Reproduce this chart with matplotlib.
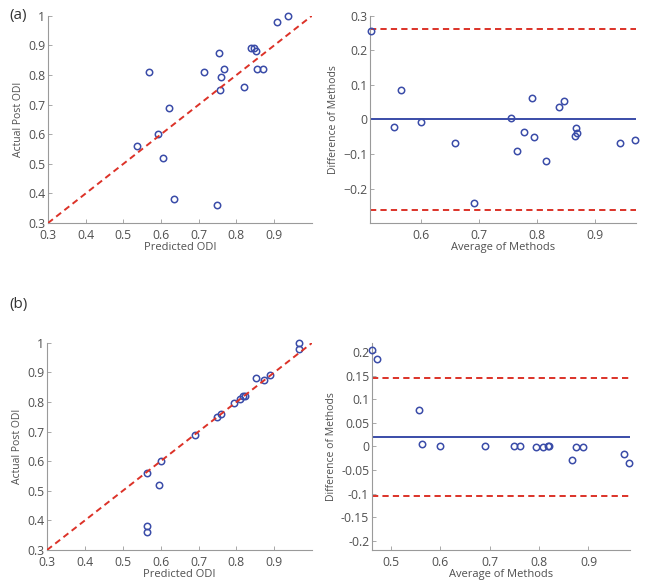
import numpy as np
import matplotlib
matplotlib.use("Agg")
import matplotlib.pyplot as plt
from matplotlib.ticker import FuncFormatter

plt.rcParams['font.family'] = ['Open Sans', 'DejaVu Sans']
plt.rcParams['lines.scale_dashes'] = False

# (a) predicted vs actual
pred_a = [0.537, 0.567, 0.591, 0.604, 0.621, 0.635, 0.714, 0.753, 0.758, 0.756, 0.767,
          0.749, 0.819, 0.839, 0.847, 0.853, 0.855, 0.871, 0.907, 0.937]
actual_a = [0.56, 0.81, 0.60, 0.52, 0.69, 0.38, 0.81, 0.875, 0.795, 0.75, 0.82,
            0.36, 0.76, 0.89, 0.89, 0.88, 0.82, 0.82, 0.98, 1.0]
# (a) Bland-Altman
avg_a = [0.514, 0.554, 0.567, 0.600, 0.660, 0.692, 0.755, 0.765, 0.778, 0.792,
         0.795, 0.815, 0.838, 0.846, 0.865, 0.867, 0.869, 0.943, 0.968]
diff_a = [0.257, -0.021, 0.085, -0.006, -0.067, -0.241, 0.005, -0.092, -0.035, 0.062,
          -0.052, -0.120, 0.037, 0.053, -0.047, -0.025, -0.040, -0.068, -0.059]
mean_a, loa_a = 0.0, 0.262

# (b) predicted vs actual
pred_b = [0.565, 0.565, 0.565, 0.597, 0.600, 0.690, 0.750, 0.760, 0.795, 0.810, 0.818,
          0.822, 0.853, 0.873, 0.888, 0.966, 0.966]
actual_b = [0.56, 0.38, 0.36, 0.52, 0.60, 0.69, 0.75, 0.76, 0.795, 0.81, 0.82,
            0.82, 0.88, 0.875, 0.89, 1.0, 0.98]
# (b) Bland-Altman
avg_b = [0.462, 0.472, 0.558, 0.563, 0.600, 0.690, 0.750, 0.761, 0.793, 0.809, 0.819,
         0.821, 0.867, 0.874, 0.889, 0.971, 0.983]
diff_b = [0.2055, 0.186, 0.077, 0.005, 0.001, 0.001, 0.001, 0.001, -0.001, -0.001,
          0.0, 0.001, -0.028, -0.001, -0.001, -0.016, -0.035]
mean_b, loa_hi_b, loa_lo_b = 0.02, 0.145, -0.106

BLUE = '#3a4ca8'
RED = '#dc3228'
GREY = '#505050'
SPINE = '#9a9a9a'
DASH = (4.5, 3.0)

fig = plt.figure(figsize=(6.45, 5.87), dpi=100)


def style(ax):
    for s in ['top', 'right']:
        ax.spines[s].set_visible(False)
    for s in ['left', 'bottom']:
        ax.spines[s].set_color(SPINE)
        ax.spines[s].set_linewidth(0.8)
    ax.tick_params(direction='in', length=3, width=0.6, color=SPINE,
                   labelsize=8.8, labelcolor=GREY)
    ax.tick_params(axis='x', pad=4.5)
    ax.tick_params(axis='y', pad=2)


def fmt_g(minus):
    def f(v, pos):
        s = '%g' % (round(v, 3) + 0.0)
        if s == '-0':
            s = '0'
        return s.replace('-', minus)
    return FuncFormatter(f)


def scatter_panel(ax, pred, actual):
    ax.plot(pred, actual, 'o', mfc='none', mec=BLUE, ms=4.6, mew=1.1, zorder=2, clip_on=False)
    ax.plot([0.3, 1.0], [0.3, 1.0], color=RED, lw=1.4, dashes=DASH, zorder=3)
    ax.set_xlim(0.3, 1.0)
    ax.set_ylim(0.3, 1.0)
    ax.set_xticks(np.arange(0.3, 0.95, 0.1))
    ax.set_yticks(np.arange(0.3, 1.05, 0.1))
    ax.xaxis.set_major_formatter(fmt_g('-'))
    ax.yaxis.set_major_formatter(fmt_g('-'))
    ax.set_xlabel('Predicted ODI', fontsize=8, color=GREY, labelpad=0)
    ax.set_ylabel('Actual Post ODI', fontsize=7.5, color=GREY, labelpad=3)
    style(ax)


# (a) left
ax1 = fig.add_axes([0.0744, 0.620, 0.409, 0.353])
scatter_panel(ax1, pred_a, actual_a)

# (a) right
ax2 = fig.add_axes([0.5736, 0.620, 0.412, 0.353])
ax2.plot(avg_a, diff_a, 'o', mfc='none', mec=BLUE, ms=4.6, mew=1.1, zorder=3, clip_on=False)
ax2.axhline(mean_a, color=BLUE, lw=1.4, zorder=2)
ax2.axhline(loa_a, color=RED, lw=1.4, dashes=DASH, zorder=2)
ax2.axhline(-loa_a, color=RED, lw=1.4, dashes=DASH, zorder=2)
ax2.set_xlim(0.513, 0.97)
ax2.set_ylim(-0.3, 0.3)
ax2.set_xticks([0.6, 0.7, 0.8, 0.9])
ax2.set_yticks([-0.2, -0.1, 0, 0.1, 0.2, 0.3])
ax2.xaxis.set_major_formatter(fmt_g('\u2212'))
ax2.yaxis.set_major_formatter(fmt_g('\u2212'))
ax2.set_xlabel('Average of Methods', fontsize=8, color=GREY, labelpad=0)
ax2.set_ylabel('Difference of Methods', fontsize=7.5, color=GREY, labelpad=3)
style(ax2)

# (b) left
ax3 = fig.add_axes([0.0729, 0.063, 0.411, 0.353])
scatter_panel(ax3, pred_b, actual_b)

# (b) right
ax4 = fig.add_axes([0.5767, 0.063, 0.400, 0.353])
ax4.plot(avg_b, diff_b, 'o', mfc='none', mec=BLUE, ms=4.6, mew=1.1, zorder=3, clip_on=False)
ax4.axhline(mean_b, color=BLUE, lw=1.4, zorder=2)
ax4.axhline(loa_hi_b, color=RED, lw=1.4, dashes=DASH, zorder=2)
ax4.axhline(loa_lo_b, color=RED, lw=1.4, dashes=DASH, zorder=2)
ax4.set_xlim(0.462, 0.984)
ax4.set_ylim(-0.22, 0.22)
ax4.set_xticks([0.5, 0.6, 0.7, 0.8, 0.9])
ax4.set_yticks(np.arange(-0.2, 0.201, 0.05))
ax4.xaxis.set_major_formatter(fmt_g('-'))
ax4.yaxis.set_major_formatter(fmt_g('-'))
ax4.set_xlabel('Average of Methods', fontsize=8, color=GREY, labelpad=0)
ax4.set_ylabel('Difference of Methods', fontsize=7.5, color=GREY, labelpad=3)
style(ax4)

fig.text(0.015, 0.987, '(a)', fontsize=11, color='#333333', va='top', ha='left')
fig.text(0.015, 0.494, '(b)', fontsize=11, color='#333333', va='top', ha='left')

fig.savefig('out.png', dpi=100)
